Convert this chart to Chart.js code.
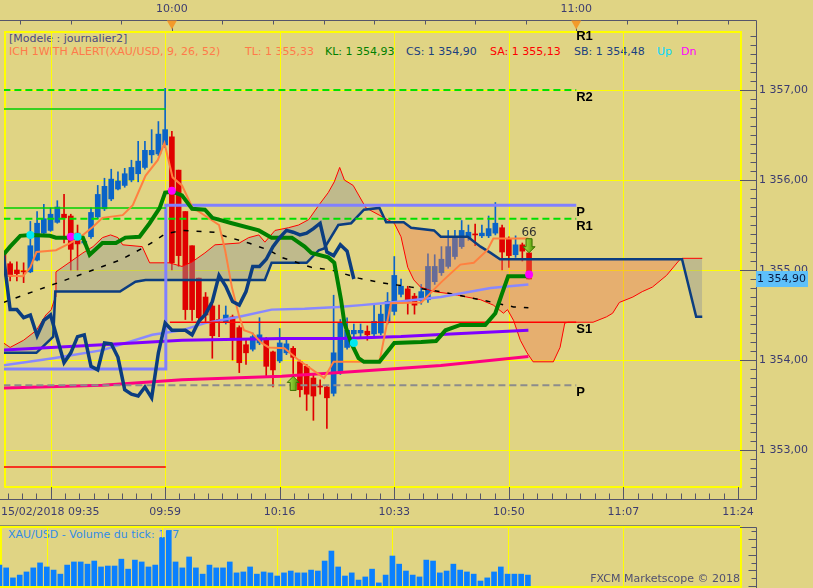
<!DOCTYPE html>
<html>
<head>
<meta charset="utf-8">
<script src="https://cdn.jsdelivr.net/npm/chart.js@4.4.1/dist/chart.umd.min.js"></script>
<style>
body { margin: 0; background: #e0d484; width: 813px; height: 588px; overflow: hidden; position: relative;
       font-family: "DejaVu Sans", sans-serif; font-size: 11px; }
canvas { position: absolute; left: 0; z-index: 1; }
#main { top: 0; }
#vol { top: 520px; }
.t { position: absolute; white-space: nowrap; line-height: 14px; z-index: 0; }
</style>
</head>
<body>
<div class="t" style="left:9px;top:32px;color:#4a4a80">[Modele : journalier2]</div>
<div class="t" style="left:9px;top:45px;color:#ff7a4a">ICH 1WITH ALERT(XAU/USD, 9, 26, 52)</div>
<div class="t" style="left:245px;top:45px;color:#ff7a4a">TL: 1 355,33</div>
<div class="t" style="left:325px;top:45px;color:#008000">KL: 1 354,93</div>
<div class="t" style="left:406px;top:45px;color:#1a4080">CS: 1 354,90</div>
<div class="t" style="left:490px;top:45px;color:#ff0000">SA: 1 355,13</div>
<div class="t" style="left:574px;top:45px;color:#1a4080">SB: 1 354,48</div>
<div class="t" style="left:657px;top:45px;color:#00d8ff">Up</div>
<div class="t" style="left:681px;top:45px;color:#ff00ff">Dn</div>
<div class="t" style="left:8px;top:528px;color:#328ce6">XAU/USD - Volume du tick: 177</div>
<div class="t" style="right:73px;top:572px;color:#505070;z-index:2">FXCM Marketscope © 2018</div>

<canvas id="main" width="813" height="520"></canvas>
<canvas id="vol" width="813" height="68"></canvas>

<script>
// XAU/USD 1 minute bars, index 0 = 09:35
const opens  = [1355.18,1355.07,1355.00,1354.99,1354.98,1355.11,1355.41,1355.44,1355.53,1355.62,
                1355.60,1355.41,1355.30,1355.37,1355.59,1355.68,1355.79,1355.90,1355.94,1356.00,
                1356.07,1356.14,1356.28,1356.29,1356.39,1356.48,1356.11,1355.65,1355.27,1354.91,
                1354.70,1354.60,1354.45,1354.42,1354.48,1354.36,1354.17,1354.12,1354.19,1354.23,
                1354.09,1353.99,1354.08,1354.13,1353.98,1353.93,1353.80,1353.71,1353.70,1353.63,
                1353.86,1354.14,1354.29,1354.30,1354.32,1354.29,1354.30,1354.43,1354.54,1354.73,
                1354.79,1354.71,1354.66,1354.67,1354.87,1354.97,1355.04,1355.15,1355.26,1355.36,
                1355.40,1355.38,1355.38,1355.41,1355.47,1355.34,1355.17,1355.28,1355.19];
const highs  = [1355.20,1355.09,1355.09,1355.08,1355.54,1355.65,1355.73,1355.69,1355.77,1355.84,
                1355.62,1355.50,1355.35,1355.69,1355.94,1356.02,1356.12,1356.09,1356.13,1356.22,
                1356.43,1356.43,1356.56,1356.65,1357.02,1356.54,1356.11,1355.65,1355.27,1354.91,
                1354.75,1354.62,1354.61,1354.60,1354.50,1354.38,1354.22,1354.30,1354.47,1354.25,
                1354.10,1354.35,1354.25,1354.15,1354.00,1353.95,1353.85,1353.78,1353.72,1354.72,
                1354.45,1354.47,1354.40,1354.40,1354.38,1354.61,1354.61,1354.75,1355.15,1354.90,
                1354.82,1354.74,1354.84,1355.18,1355.17,1355.26,1355.44,1355.44,1355.55,1355.50,
                1355.51,1355.50,1355.60,1355.75,1355.50,1355.37,1355.38,1355.30,1355.19];
const lows   = [1354.98,1354.88,1354.88,1354.86,1354.97,1355.10,1355.40,1355.43,1355.52,1355.30,
                1355.00,1355.00,1355.28,1355.35,1355.57,1355.66,1355.77,1355.89,1355.92,1355.98,
                1355.98,1356.12,1356.19,1356.27,1356.36,1355.00,1355.04,1354.45,1354.44,1354.40,
                1354.41,1354.02,1354.26,1354.40,1354.00,1353.86,1353.95,1354.10,1354.17,1353.81,
                1353.70,1353.97,1354.06,1353.85,1353.59,1353.44,1353.33,1353.62,1353.24,1353.60,
                1353.84,1354.12,1354.25,1354.25,1354.22,1354.27,1354.28,1354.40,1354.50,1354.70,
                1354.51,1354.51,1354.62,1354.64,1354.84,1354.94,1355.02,1355.12,1355.24,1355.33,
                1355.27,1355.36,1355.36,1355.39,1355.00,1355.03,1355.14,1355.10,1354.90];
const closes = [1355.00,1354.93,1354.96,1354.98,1355.27,1355.52,1355.57,1355.62,1355.70,1355.58,
                1355.23,1355.29,1355.32,1355.64,1355.84,1355.93,1356.01,1355.99,1356.07,1356.14,
                1356.21,1356.33,1356.33,1356.51,1356.56,1355.08,1355.16,1354.56,1354.56,1354.47,
                1354.50,1354.27,1354.44,1354.50,1354.24,1353.97,1354.08,1354.26,1354.28,1353.93,
                1353.89,1354.19,1354.18,1354.03,1353.67,1353.62,1353.60,1353.70,1353.58,1354.08,
                1354.41,1354.33,1354.33,1354.33,1354.28,1354.43,1354.51,1354.65,1354.94,1354.82,
                1354.65,1354.61,1354.76,1355.04,1355.04,1355.12,1355.26,1355.36,1355.44,1355.42,
                1355.39,1355.41,1355.46,1355.52,1355.20,1355.16,1355.28,1355.21,1354.90];
const volumes = [67,58,26,35,45,58,74,61,51,38, 67,77,77,70,80,61,64,64,86,54,
                 83,77,61,67,154,177,77,58,93,58, 38,67,58,58,77,42,45,61,38,45,
                 42,32,42,48,42,42,51,48,80,112, 61,32,42,19,29,54,10,35,96,70,
                 48,35,29,83,80,42,48,70,51,45, 38,16,26,45,61,38,38,38,35];

// Ichimoku lines as [bar, price]
const tenkan = [[0,1354.94],[2.9,1354.93],[4,1355.03],[4.9,1355.20],[7.8,1355.22],[9.9,1355.30],[11.8,1355.39],
  [13.3,1355.48],[14.7,1355.58],[17.7,1355.61],[19.2,1355.72],[21.1,1356.05],[22.9,1356.22],[23.9,1356.41],
  [25.1,1356.03],[26.5,1355.94],[28,1355.70],[32,1355.50],[32.9,1355.22],[33.9,1354.81],[35,1354.48],
  [35.7,1354.33],[36.9,1354.30],[38.3,1354.19],[39.4,1354.14],[41.7,1354.13],[43.8,1354.00],[47.6,1353.80],
  [49,1353.98],[55.8,1353.98],[57.5,1354.63],[62,1354.64],[64.9,1354.86],[67.8,1355.06],[69.8,1355.08],
  [71.8,1355.22],[72.7,1355.35],[77.9,1355.35]];
const kijun = [[0,1355.17],[1,1355.26],[2.5,1355.38],[4,1355.39],[6.9,1355.38],[7.8,1355.36],[11.8,1355.36],
  [12.8,1355.17],[14.7,1355.30],[16.7,1355.30],[18.1,1355.36],[20.2,1355.37],[21.7,1355.52],[23.2,1355.69],
  [24,1355.86],[25.1,1355.87],[26.5,1355.83],[28,1355.68],[29.9,1355.67],[31,1355.58],[33.9,1355.52],
  [37.9,1355.44],[39.8,1355.36],[42.8,1355.36],[44.7,1355.26],[45.7,1355.19],[48.2,1355.14],[49.1,1355.08],
  [50.1,1354.67],[50.6,1354.41],[51.6,1354.19],[52.7,1354.02],[53.5,1353.98],[55.8,1353.98],[58,1354.19],
  [62,1354.20],[64.2,1354.21],[65.6,1354.33],[67.8,1354.39],[71.5,1354.39],[73,1354.52],[74,1354.74],
  [74.9,1354.93],[78,1354.93]];
const senkouA = [[0,1354.19],[1,1354.14],[3,1354.22],[4.9,1354.33],[6.3,1354.50],[7.1,1354.56],[7.7,1354.70],
  [7.8,1354.98],[9.9,1355.09],[11.8,1355.19],[13.3,1355.26],[14.7,1355.36],[15.9,1355.39],[17,1355.36],
  [17.7,1355.28],[20.6,1355.26],[21.7,1355.08],[24.6,1355.08],[26.5,1355.04],[28,1355.09],[29.9,1355.19],
  [31.4,1355.28],[35,1355.30],[36.4,1355.36],[37.9,1355.39],[38.8,1355.31],[40.3,1355.44],[42.3,1355.47],
  [43.8,1355.50],[45.3,1355.56],[46.8,1355.72],[48.2,1355.86],[49.1,1355.98],[49.9,1356.14],[50.6,1356.00],
  [51.9,1355.94],[53.8,1355.69],[58,1355.52],[59,1355.37],[60,1355.03],[60.9,1354.89],[61.9,1354.81],
  [63.9,1354.76],[65.9,1354.74],[67.4,1354.72],[70.8,1354.67],[72.7,1354.61],[74.2,1354.52],[74.8,1354.56],
  [75.7,1354.44],[76.7,1354.22],[77.7,1354.08],[78.6,1353.98],[81.6,1353.98],[82.6,1354.14],[83.3,1354.41],
  [83.8,1354.42],[87.5,1354.42],[89.5,1354.48],[90.4,1354.52],[91.4,1354.64],[93.4,1354.70],[94.8,1354.76],
  [96.3,1354.81],[98.4,1354.94],[100.3,1355.11],[100.7,1355.13],[103.7,1355.13]];
const senkouB = [[0,1354.08],[4.9,1354.08],[7.4,1354.26],[7.7,1354.76],[17.3,1354.76],[19.6,1354.87],
  [21.1,1354.89],[38.8,1354.89],[39.8,1355.08],[45,1355.08],[46.8,1355.22],[47.6,1355.24],[49.7,1355.50],
  [51.6,1355.52],[53.5,1355.67],[55.8,1355.69],[56.8,1355.53],[59.4,1355.53],[60.5,1355.47],[63.9,1355.44],
  [64.9,1355.37],[68.9,1355.37],[70.8,1355.26],[72.3,1355.19],[73.7,1355.12],[100.7,1355.12],[102.8,1354.48],
  [103.7,1354.48]];
const chikouShift = 26;

// moving averages as [bar, price]
const maBlack = [[0,1354.64],[2.9,1354.72],[6.3,1354.81],[12.2,1354.97],[17.3,1355.11],[21.1,1355.26],
  [24,1355.40],[26.5,1355.44],[31.4,1355.42],[32.2,1355.39],[36.4,1355.30],[39.4,1355.22],[41.3,1355.14],
  [45.7,1355.03],[48.7,1355.00],[52.7,1354.91],[56,1354.86],[60.5,1354.81],[64.9,1354.76],[70.8,1354.67],
  [75.7,1354.59],[77.9,1354.58]];
const maBlue = [[0,1353.94],[7.4,1354.02],[14.7,1354.11],[22.1,1354.28],[26.5,1354.33],[29.9,1354.41],
  [35,1354.48],[39.8,1354.56],[44.7,1354.57],[49.7,1354.59],[53.1,1354.61],[57.5,1354.64],[64.9,1354.70],
  [72.3,1354.80],[77.9,1354.84]];
const maPurple = [[0,1354.11],[14.7,1354.17],[26.5,1354.22],[41.3,1354.24],[50.1,1354.24],[59,1354.26],
  [66.4,1354.29],[77.9,1354.33]];
const maPink = [[0,1353.69],[14.7,1353.72],[26.5,1353.78],[41.3,1353.82],[51.6,1353.87],[64.9,1353.94],
  [77.9,1354.04]];

// pivot levels
const pivotSplit = 24.1, pivotEnd = 85;
const prevLevels = [1356.79, 1355.69];          // green, before 10:00
const prevP = 1353.90, prevS1 = 1352.81;
const hourP = 1355.72, hourS1 = 1354.42;
const dayR2 = 1357.00, dayR1 = 1355.57, dayP = 1353.72;
const pivotLabels = ['R1', 'R2', 'P', 'R1', 'S1', 'P'];
const pivotLabelLevels = [1357.68, 1357.00, 1355.72, 1355.57, 1354.42, 1353.72];

// signals
const upDots = [[4,1355.39],[11,1355.37],[52,1354.19]];
const dnDots = [[10,1355.37],[25,1355.88],[78,1354.95]];
const upArrows = [[43,1353.74]];
const dnArrows = [[78,1355.27]];
const dnArrowText = '66';

// axes
const gridIdx = [7, 24, 41, 58, 75, 92];
const timeTickIdx = [24, 41, 58, 75, 92, 109];
const timeTickLabels = ['09:59', '10:16', '10:33', '10:50', '11:07', '11:24'];
const firstTimeLabel = '15/02/2018 09:35';
const topTickIdx = [25, 85];
const topTickLabels = ['10:00', '11:00'];
const priceTicks = [1353, 1354, 1355, 1356, 1357];
const priceTickLabels = ['1 353,00', '1 354,00', '1 355,00', '1 356,00', '1 357,00'];
const lastPrice = 1354.90, lastPriceLabel = '1 354,90';

const xMin = 0.09, xMax = 109.3;
const yMin = 1352.589, yMax = 1357.656;
const BLUE = '#0a64c8', RED = '#e00000';
const FONT = '11px "DejaVu Sans"';

const pts = arr => arr.map(([x, y]) => ({x, y}));

function line(data, color, width, extra) {
    return Object.assign({
        type: 'line', data: pts(data), borderColor: color, borderWidth: width,
        pointRadius: 0, tension: 0, fill: false, order: 4
    }, extra || {});
}

function buildDatasets() {
    const candleColors = opens.map((o, i) => closes[i] >= o ? BLUE : RED);
    const ds = [];
    ds.push({
        type: 'bar', data: opens.map((o, i) => ({x: i, y: [lows[i], highs[i]]})),
        backgroundColor: candleColors, barThickness: 1, grouped: false, order: 10
    });
    ds.push({
        type: 'bar', data: opens.map((o, i) => ({x: i, y: [o, closes[i]]})),
        backgroundColor: candleColors, barThickness: 5, minBarLength: 1, grouped: false, order: 9
    });
    const sbIndex = ds.length;
    ds.push(line(senkouB, '#0b3d80', 2.5, {order: 5}));
    ds.push(line(senkouA, '#ff0000', 1, {
        order: 6,
        fill: {target: sbIndex, above: 'rgba(150,155,150,0.45)', below: 'rgba(240,120,80,0.4)'}
    }));

    // pivots
    ds.push(line([[0, dayR2], [pivotEnd, dayR2]], '#00e000', 2, {borderDash: [7, 4]}));
    ds.push(line([[0, dayR1], [pivotEnd, dayR1]], '#00e000', 2, {borderDash: [7, 4]}));
    ds.push(line([[0, dayP], [pivotEnd, dayP]], '#8c8c8c', 2, {borderDash: [7, 4]}));
    prevLevels.forEach(p => ds.push(line([[0, p], [pivotSplit, p]], '#00d000', 1.5)));
    ds.push(line([[0, prevS1], [pivotSplit, prevS1]], '#ff0000', 1.5));
    ds.push(line([[pivotSplit + 0.6, hourS1], [pivotEnd, hourS1]], '#ff0000', 1.5));
    ds.push(line([[0, prevP], [pivotSplit, prevP], [pivotSplit, hourP], [pivotEnd, hourP]], '#8080ff', 3));

    // moving averages
    ds.push(line(maPink, '#ff0080', 3));
    ds.push(line(maPurple, '#8000ff', 3));
    ds.push(line(maBlue, '#8888ff', 2.5));
    ds.push(line(maBlack, '#000000', 1.5, {borderDash: [5, 8]}));

    // tenkan, kijun, chikou
    ds.push(line(tenkan, '#ff8040', 2, {order: 3}));
    ds.push(line(kijun, '#008000', 4, {order: 2}));
    const chikou = closes.slice(chikouShift).map((c, i) => [i, c]);
    ds.push(line(chikou, '#0b3d80', 3.5, {order: 1}));

    ds.push({type: 'scatter', data: pts(upDots), pointRadius: 4, pointBackgroundColor: '#00e8f0',
             pointBorderWidth: 0, order: 0});
    ds.push({type: 'scatter', data: pts(dnDots), pointRadius: 4, pointBackgroundColor: '#ff00ff',
             pointBorderWidth: 0, order: 0});
    return ds;
}

function drawArrow(ctx, cx, cy, dir) {
    // dir -1 = pointing up, 1 = pointing down
    ctx.beginPath();
    ctx.moveTo(cx, cy + dir * 7);
    ctx.lineTo(cx + 6, cy + dir * 1);
    ctx.lineTo(cx + 3, cy + dir * 1);
    ctx.lineTo(cx + 3, cy - dir * 7);
    ctx.lineTo(cx - 3, cy - dir * 7);
    ctx.lineTo(cx - 3, cy + dir * 1);
    ctx.lineTo(cx - 6, cy + dir * 1);
    ctx.closePath();
    const g = ctx.createLinearGradient(cx - 6, 0, cx + 6, 0);
    g.addColorStop(0, '#b0e850');
    g.addColorStop(1, '#4c9400');
    ctx.fillStyle = g;
    ctx.fill();
    ctx.strokeStyle = '#3a7000';
    ctx.lineWidth = 1;
    ctx.stroke();
}

const mainPanel = {
    id: 'mainPanel',
    beforeDatasetsDraw(chart) {
        const {ctx, chartArea: a, scales: {x, y}} = chart;
        ctx.save();
        ctx.strokeStyle = '#ffff00';
        ctx.lineWidth = 1;
        ctx.beginPath();
        gridIdx.forEach(k => {
            const px = Math.round(x.getPixelForValue(k)) + 0.5;
            ctx.moveTo(px, a.top); ctx.lineTo(px, a.bottom);
        });
        priceTicks.forEach(p => {
            const py = Math.round(y.getPixelForValue(p)) + 0.5;
            ctx.moveTo(a.left, py); ctx.lineTo(a.right, py);
        });
        ctx.stroke();
        ctx.lineWidth = 2;
        ctx.strokeRect(a.left + 1, a.top + 1, a.right - a.left, a.bottom - a.top - 1);
        ctx.restore();
    },
    afterDatasetsDraw(chart) {
        const {ctx, scales: {x, y}} = chart;
        ctx.save();
        upArrows.forEach(([k, p]) => drawArrow(ctx, x.getPixelForValue(k), y.getPixelForValue(p), -1));
        dnArrows.forEach(([k, p]) => {
            const cx = x.getPixelForValue(k), cy = y.getPixelForValue(p);
            drawArrow(ctx, cx, cy, 1);
            ctx.fillStyle = '#303030';
            ctx.font = '12px "DejaVu Sans"';
            ctx.textAlign = 'center';
            ctx.textBaseline = 'middle';
            ctx.fillText(dnArrowText, cx, cy - 13);
        });
        ctx.restore();
    },
    afterDraw(chart) {
        const {ctx, chartArea: a, scales: {x, y}} = chart;
        const axisX = 756.5, axisTop = 20.5, axisBottom = 499.5;
        ctx.save();
        ctx.strokeStyle = '#55556a';
        ctx.lineWidth = 1;
        ctx.beginPath();
        ctx.moveTo(0, axisTop); ctx.lineTo(axisX, axisTop);
        ctx.lineTo(axisX, axisBottom); ctx.lineTo(0, axisBottom);

        // price ticks
        for (let i = Math.ceil(yMin * 10); i <= Math.floor(yMax * 10); i++) {
            const py = Math.round(y.getPixelForValue(i / 10)) + 0.5;
            ctx.moveTo(i % 10 === 0 ? a.right : axisX - 6, py);
            ctx.lineTo(axisX, py);
        }
        // top time ticks every 7.5 bars
        for (let k = topTickIdx[0] - 22.5; k <= xMax; k += 7.5) {
            const px = Math.round(x.getPixelForValue(k)) + 0.5;
            const major = topTickIdx.includes(k);
            ctx.moveTo(px, axisTop); ctx.lineTo(px, major ? a.top : axisTop + 4);
        }
        // bottom time ticks
        for (let n = -3; ; n++) {
            const k = gridIdx[0] + n * 17 / 8;
            if (k > xMax) break;
            if (k < xMin) continue;
            const px = Math.round(x.getPixelForValue(k)) + 0.5;
            ctx.moveTo(px, axisBottom); ctx.lineTo(px, n % 8 === 0 ? a.bottom : axisBottom - 6);
        }
        ctx.stroke();

        // orange hour markers
        ctx.fillStyle = '#f39a2a';
        topTickIdx.forEach(k => {
            const px = x.getPixelForValue(k);
            ctx.beginPath();
            ctx.moveTo(px - 5, axisTop); ctx.lineTo(px + 5, axisTop); ctx.lineTo(px, axisTop + 9);
            ctx.closePath(); ctx.fill();
        });

        ctx.font = FONT;
        ctx.fillStyle = '#3c3c70';
        ctx.textBaseline = 'middle';
        ctx.textAlign = 'center';
        topTickIdx.forEach((k, i) => ctx.fillText(topTickLabels[i], x.getPixelForValue(k), 9));
        timeTickIdx.forEach((k, i) => ctx.fillText(timeTickLabels[i], x.getPixelForValue(k), 512));
        ctx.textAlign = 'left';
        ctx.fillText(firstTimeLabel, 1, 512);
        priceTicks.forEach((p, i) => ctx.fillText(priceTickLabels[i], axisX + 2.5, y.getPixelForValue(p)));

        // last price box
        const lp = y.getPixelForValue(lastPrice);
        ctx.fillStyle = '#5ec0fa';
        ctx.fillRect(axisX - 0.5, lp - 8, 52, 16);
        ctx.fillStyle = '#0a1a40';
        ctx.fillText(lastPriceLabel, axisX + 0.5, lp);

        // pivot labels
        ctx.fillStyle = '#000000';
        ctx.font = 'bold 13px "Liberation Sans"';
        const lx = x.getPixelForValue(pivotEnd);
        pivotLabels.forEach((t, i) => ctx.fillText(t, lx, y.getPixelForValue(pivotLabelLevels[i]) + 7.5));
        ctx.restore();
    }
};

const volPanel = {
    id: 'volPanel',
    beforeDatasetsDraw(chart) {
        const {ctx, chartArea: a, scales: {x, y}} = chart;
        const axisX = 756.5;
        ctx.save();
        ctx.strokeStyle = '#8a8a70';
        ctx.lineWidth = 1;
        ctx.beginPath();
        ctx.moveTo(0, a.top - 1.5); ctx.lineTo(a.right, a.top - 1.5);
        ctx.stroke();
        ctx.strokeStyle = '#ffff00';
        ctx.beginPath();
        gridIdx.forEach(k => {
            const px = Math.round(x.getPixelForValue(k)) + 0.5;
            ctx.moveTo(px, a.top); ctx.lineTo(px, a.bottom);
        });
        ctx.stroke();
        ctx.lineWidth = 2;
        ctx.strokeRect(a.left + 1, a.top, a.right - a.left, a.bottom - a.top + 1);

        ctx.strokeStyle = '#55556a';
        ctx.lineWidth = 1;
        ctx.beginPath();
        ctx.moveTo(a.right, a.top + 0.5); ctx.lineTo(axisX, a.top + 0.5);
        ctx.lineTo(axisX, chart.height);
        for (let v = 0; v <= 175; v += 25) {
            const py = Math.round(y.getPixelForValue(v)) + 0.5;
            ctx.moveTo(axisX - (v % 50 === 0 ? 8 : 5), py); ctx.lineTo(axisX, py);
        }
        ctx.stroke();
        ctx.restore();
    }
};

const baseOptions = (padding, yRange) => ({
    responsive: false,
    animation: false,
    events: [],
    layout: {padding},
    plugins: {legend: {display: false}, tooltip: {enabled: false}},
    scales: {
        x: {type: 'linear', display: false, min: xMin, max: xMax, offset: false},
        y: {type: 'linear', display: false, min: yRange[0], max: yRange[1]}
    }
});

new Chart(document.getElementById('main'), {
    type: 'bar',
    data: {datasets: buildDatasets()},
    options: baseOptions({left: 0, top: 31, right: 73, bottom: 33}, [yMin, yMax]),
    plugins: [mainPanel]
});

new Chart(document.getElementById('vol'), {
    type: 'bar',
    data: {datasets: [{
        data: volumes.map((v, i) => ({x: i, y: v})),
        backgroundColor: '#0a80ff', barThickness: 5, grouped: false
    }]},
    options: baseOptions({left: 0, top: 7, right: 73, bottom: 2}, [0, 189]),
    plugins: [volPanel]
});
</script>
</body>
</html>
